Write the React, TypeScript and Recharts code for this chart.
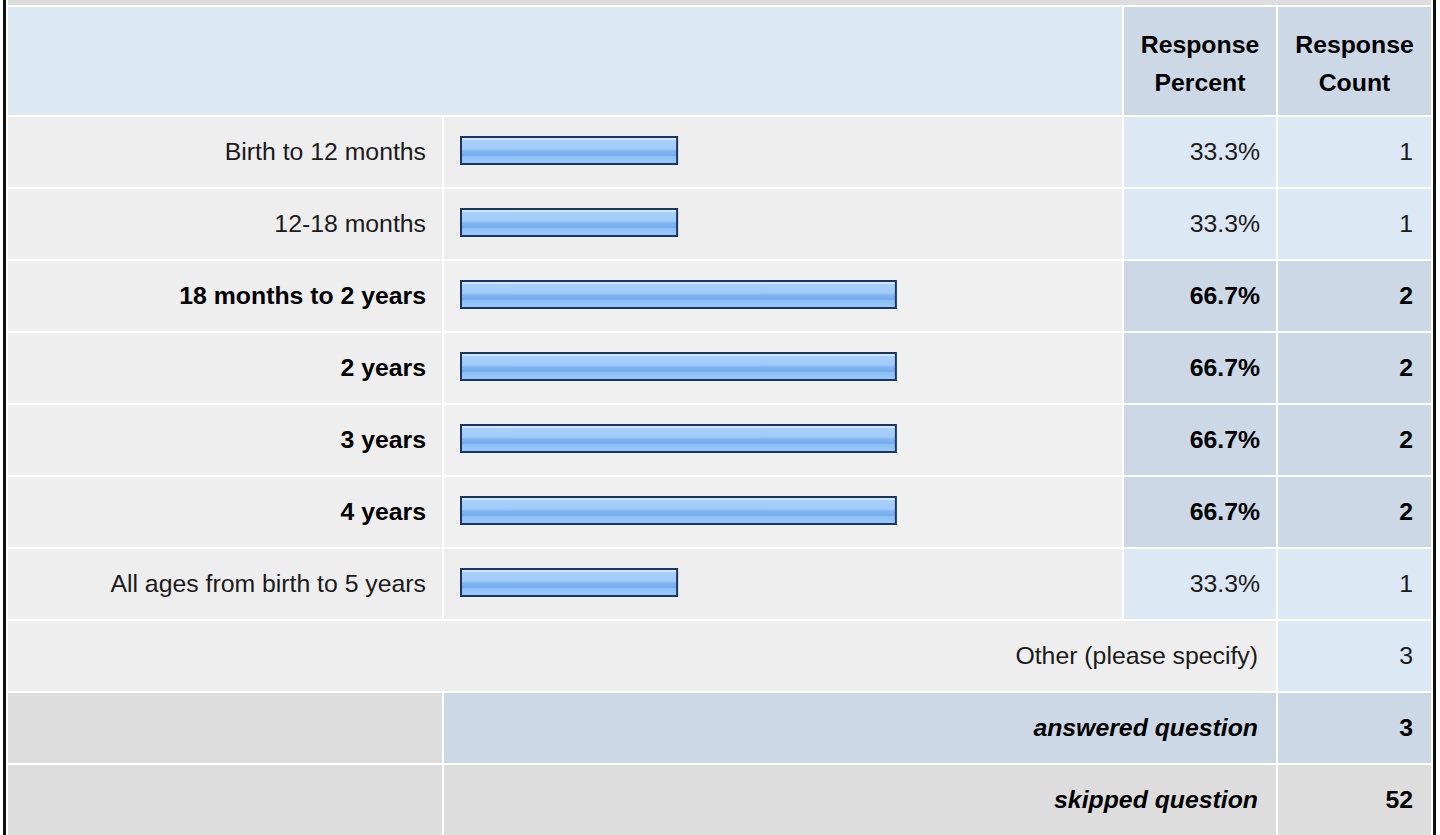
import React from 'react';
import { BarChart, Bar, XAxis, YAxis } from 'recharts';

const categories = [
  'Birth to 12 months',
  '12-18 months',
  '18 months to 2 years',
  '2 years',
  '3 years',
  '4 years',
  'All ages from birth to 5 years',
];
const percents = [33.3, 33.3, 66.7, 66.7, 66.7, 66.7, 33.3];
const counts = [1, 1, 2, 2, 2, 2, 1];
const headerLabels = ['Response\nPercent', 'Response\nCount'];
const otherLabel = 'Other (please specify)';
const otherCount = 3;
const summaryLabels = ['answered question', 'skipped question'];
const summaryCounts = [3, 52];

const data = categories.map((name, i) => ({ name, percent: percents[i], count: counts[i] }));
const maxPct = Math.max(...percents);

const FONT = '"Liberation Sans", Arial, Helvetica, sans-serif';
const FS = 24.8;
const ROW_TOP = 117;
const ROW_H = 70;
const PITCH = 72;
const COLS = [
  { x: 8, w: 434 },
  { x: 444, w: 678 },
  { x: 1124, w: 152 },
  { x: 1278, w: 153 },
];
const C_LIGHT = '#eeeeee';
const C_BLUE = '#dde8f5';
const C_BLUE2 = '#cdd8e6';
const C_GRAY = '#dddddd';

type CellProps = {
  x: number;
  y: number;
  w: number;
  h: number;
  bg: string;
  align?: 'right' | 'center';
  bold?: boolean;
  italic?: boolean;
  padTop?: number;
  padRight?: number;
  children?: React.ReactNode;
};

const Cell = ({ x, y, w, h, bg, align = 'right', bold, italic, padTop = 0, padRight = 16, children }: CellProps) => (
  <div
    style={{
      position: 'absolute',
      left: x,
      top: y,
      width: w,
      height: h,
      background: bg,
      boxSizing: 'border-box',
      display: 'flex',
      alignItems: 'center',
      justifyContent: align === 'right' ? 'flex-end' : 'center',
      paddingRight: align === 'right' ? padRight : 0,
      paddingTop: padTop,
      fontFamily: FONT,
      fontSize: FS,
      fontWeight: bold ? 700 : 400,
      fontStyle: italic ? 'italic' : 'normal',
      color: bold ? '#000' : '#1a1a1a',
      textAlign: align,
      whiteSpace: 'pre-line',
      lineHeight: '38px',
    }}
  >
    {children}
  </div>
);

const GlossyBar = (props: any) => {
  const { x, y, width, height, index } = props;
  if (!width || width <= 0) return null;
  const id = `glossGrad${index}`;
  return (
    <g>
      <defs>
        <linearGradient id={id} x1="0" y1="0" x2="0" y2="1">
          <stop offset="0" stopColor="#cfe6ff" />
          <stop offset="0.12" stopColor="#cfe6ff" />
          <stop offset="0.13" stopColor="#a9d0fb" />
          <stop offset="0.45" stopColor="#9fcaf9" />
          <stop offset="0.52" stopColor="#80b4f2" />
          <stop offset="0.68" stopColor="#77abef" />
          <stop offset="0.72" stopColor="#8cbff7" />
          <stop offset="1" stopColor="#9ccbf9" />
        </linearGradient>
      </defs>
      <rect
        x={x + 1}
        y={y + 1}
        width={width - 2}
        height={height - 2}
        fill={`url(#${id})`}
        stroke="#1c365f"
        strokeWidth={2}
      />
    </g>
  );
};

export default function App() {
  const cells: React.ReactNode[] = [];
  cells.push(<Cell key="top" x={8} y={0} w={1423} h={5} bg={C_GRAY} />);
  cells.push(<Cell key="h0" x={COLS[0].x} y={7} w={COLS[1].x + COLS[1].w - COLS[0].x} h={108} bg={C_BLUE} />);
  headerLabels.forEach((t, i) => {
    cells.push(
      <Cell key={`h${i + 1}`} x={COLS[i + 2].x} y={7} w={COLS[i + 2].w} h={108} bg={C_BLUE2} align="center" bold padTop={6}>
        {t}
      </Cell>
    );
  });
  data.forEach((d, i) => {
    const y = ROW_TOP + i * PITCH;
    const hi = d.percent === maxPct;
    cells.push(
      <Cell key={`l${i}`} x={COLS[0].x} y={y} w={COLS[0].w} h={ROW_H} bg={C_LIGHT} bold={hi}>
        {d.name}
      </Cell>
    );
    cells.push(<Cell key={`b${i}`} x={COLS[1].x} y={y} w={COLS[1].w} h={ROW_H} bg={hi ? '#f0f0f0' : C_LIGHT} />);
    cells.push(
      <Cell key={`p${i}`} x={COLS[2].x} y={y} w={COLS[2].w} h={ROW_H} bg={hi ? C_BLUE2 : C_BLUE} bold={hi}>
        {d.percent.toFixed(1) + '%'}
      </Cell>
    );
    cells.push(
      <Cell key={`c${i}`} x={COLS[3].x} y={y} w={COLS[3].w} h={ROW_H} bg={hi ? C_BLUE2 : C_BLUE} bold={hi} padRight={18}>
        {String(d.count)}
      </Cell>
    );
  });
  const yo = ROW_TOP + data.length * PITCH;
  cells.push(
    <Cell key="o0" x={COLS[0].x} y={yo} w={COLS[2].x + COLS[2].w - COLS[0].x} h={ROW_H} bg={C_LIGHT} padRight={18}>
      {otherLabel}
    </Cell>
  );
  cells.push(
    <Cell key="o1" x={COLS[3].x} y={yo} w={COLS[3].w} h={ROW_H} bg={C_BLUE} padRight={18}>
      {String(otherCount)}
    </Cell>
  );
  summaryLabels.forEach((t, i) => {
    const y = yo + (i + 1) * PITCH;
    const bg = i === 0 ? C_BLUE2 : C_GRAY;
    cells.push(<Cell key={`s0${i}`} x={COLS[0].x} y={y} w={COLS[0].w} h={ROW_H} bg={C_GRAY} />);
    cells.push(
      <Cell key={`s1${i}`} x={COLS[1].x} y={y} w={COLS[2].x + COLS[2].w - COLS[1].x} h={ROW_H} bg={bg} bold italic padRight={18}>
        {t}
      </Cell>
    );
    cells.push(
      <Cell key={`s2${i}`} x={COLS[3].x} y={y} w={COLS[3].w} h={ROW_H} bg={bg} bold padRight={18}>
        {String(summaryCounts[i])}
      </Cell>
    );
  });

  return (
    <div
      style={{
        position: 'fixed',
        left: 0,
        top: 0,
        width: 1440,
        height: 835,
        overflow: 'hidden',
        background: '#ffffff',
      }}
    >
      {cells}
      <div style={{ position: 'absolute', left: 3, top: 0, width: 3, height: 835, background: '#111' }} />
      <div style={{ position: 'absolute', left: 1433, top: 0, width: 3, height: 835, background: '#111' }} />
      <div style={{ position: 'absolute', left: COLS[1].x, top: 114 }}>
        <BarChart
          width={COLS[1].w}
          height={data.length * PITCH}
          data={data}
          layout="vertical"
          margin={{ top: 0, right: 7, bottom: 0, left: 16 }}
          barCategoryGap={0}
        >
          <XAxis type="number" domain={[0, 100]} hide />
          <YAxis type="category" dataKey="name" hide />
          <Bar dataKey="percent" barSize={29} isAnimationActive={false} shape={GlossyBar} />
        </BarChart>
      </div>
    </div>
  );
}
